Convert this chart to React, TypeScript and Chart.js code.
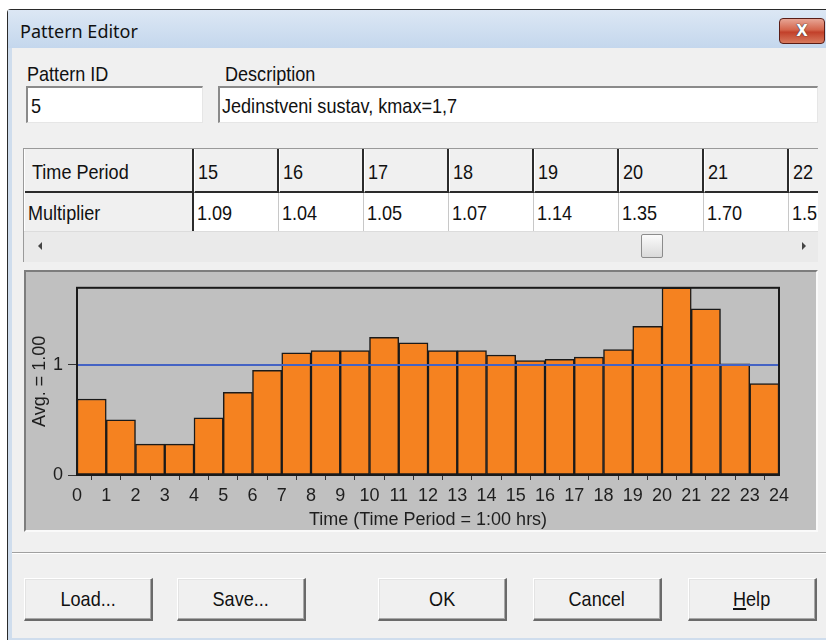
import React, { useEffect, useRef } from "react";
import { Chart, registerables } from "chart.js";

Chart.register(...registerables);

// ---- data ----
const periodStarts = [0, 1, 2, 3, 4, 5, 6, 7, 8, 9, 10, 11, 12, 13, 14, 15, 16, 17, 18, 19, 20, 21, 22, 23];
const multipliers = [0.69, 0.5, 0.28, 0.28, 0.52, 0.75, 0.95, 1.11, 1.13, 1.13, 1.25, 1.2, 1.13, 1.13, 1.09, 1.04, 1.05, 1.07, 1.14, 1.35, 1.7, 1.51, 1.01, 0.83];
const avgValue = 1.0;
const avgLineX = [0, 24];
const yTickValues = [0, 1];
const tablePeriods = [15, 16, 17, 18, 19, 20, 21, 22];
const patternId = "5";
const description = "Jedinstveni sustav, kmax=1,7";
const yTitle = "Avg. = 1.00";
const xTitle = "Time (Time Period = 1:00 hrs)";
const buttons = [
  { label: "Load...", x: 24 },
  { label: "Save...", x: 177 },
  { label: "OK", x: 378 },
  { label: "Cancel", x: 533 },
  { label: "Help", x: 688, u: true },
];

const UI_FONT = '"Liberation Sans", Arial, sans-serif';
const CHART_FONT = '"Liberation Sans", Arial, sans-serif';
const SX = 0.86;

const framePlugin = {
  id: "frame",
  afterDatasetsDraw(chart: any) {
    const { ctx, chartArea: a } = chart;
    ctx.save();
    ctx.strokeStyle = "#1a1a1a";
    ctx.lineWidth = 2;
    ctx.strokeRect(a.left, a.top, a.right - a.left, a.bottom - a.top);
    ctx.restore();
  },
};

function PatternChart() {
  const ref = useRef<HTMLCanvasElement | null>(null);
  useEffect(() => {
    if (!ref.current) return;
    const chart = new Chart(ref.current, {
      type: "bar",
      data: {
        datasets: [
          {
            type: "line",
            data: avgLineX.map((x) => ({ x, y: avgValue })),
            borderColor: "#4463c4",
            borderWidth: 2,
            pointRadius: 0,
            order: 0,
          } as any,
          {
            type: "bar",
            data: periodStarts.map((p, i) => ({ x: p + 0.5, y: multipliers[i] })),
            backgroundColor: "#f58220",
            borderColor: "#1a1a1a",
            borderWidth: 1.5,
            borderSkipped: false,
            barPercentage: 1,
            categoryPercentage: 1,
            order: 1,
          } as any,
        ],
      },
      options: {
        animation: false,
        responsive: false,
        devicePixelRatio: 1,
        layout: { padding: { top: 13, right: 37, left: 0, bottom: 0 } },
        plugins: { legend: { display: false }, tooltip: { enabled: false } },
        scales: {
          x: {
            type: "linear",
            min: 0,
            max: 24,
            offset: false,
            afterFit: (s: any) => {
              s.height = 55;
            },
            ticks: {
              stepSize: 1,
              autoSkip: false,
              maxRotation: 0,
              padding: 5,
              color: "#1e1e1e",
              font: { family: CHART_FONT, size: 18 },
            },
            grid: { drawOnChartArea: false, drawTicks: true, tickLength: 5, color: "#333" },
            border: { display: false },
            title: {
              display: true,
              text: xTitle,
              color: "#1e1e1e",
              font: { family: CHART_FONT, size: 18 },
              padding: { top: 0, bottom: -1 },
            },
          },
          y: {
            type: "linear",
            min: 0,
            max: 1.7,
            afterFit: (s: any) => {
              s.width = 51;
            },
            afterBuildTicks: (s: any) => {
              s.ticks = yTickValues.map((v) => ({ value: v }));
            },
            ticks: {
              padding: 5,
              color: "#1e1e1e",
              font: { family: CHART_FONT, size: 18 },
            },
            grid: { drawOnChartArea: false, drawTicks: true, tickLength: 9, color: "#333" },
            border: { display: false },
            title: {
              display: true,
              text: yTitle,
              color: "#1e1e1e",
              font: { family: CHART_FONT, size: 18 },
              padding: { top: 3, bottom: 0 },
            },
          },
        },
      } as any,
      plugins: [framePlugin],
    });
    return () => chart.destroy();
  }, []);
  return <canvas ref={ref} width={790} height={258} style={{ width: 790, height: 258, display: "block" }} />;
}

const abs = (x: number, y: number, w: number, h: number, extra: React.CSSProperties = {}): React.CSSProperties => ({
  position: "absolute",
  left: x,
  top: y,
  width: w,
  height: h,
  boxSizing: "border-box",
  ...extra,
});

function Txt({ x, y, children, size = 21, color = "#111", font = UI_FONT }: any) {
  return (
    <div
      style={{
        position: "absolute",
        left: x,
        top: y,
        fontFamily: font,
        fontSize: size,
        color,
        lineHeight: "1",
        whiteSpace: "nowrap",
        transform: `translateY(-50%) scaleX(${SX})`,
        transformOrigin: "left center",
      }}
    >
      {children}
    </div>
  );
}

export default function App() {
  const colW = 85;
  const firstColRight = 193;
  return (
    <div style={abs(0, 0, 826, 641, { background: "#ffffff", overflow: "hidden", fontFamily: UI_FONT })}>
      {/* window frame */}
      <div style={abs(7, 9, 830, 631, { background: "#cfdded", borderTop: "1px solid #2a2a2a", borderLeft: "1px solid #2a2a2a", borderTopLeftRadius: 4 })} />
      {/* title bar */}
      <div style={abs(8, 10, 820, 38, { background: "linear-gradient(#dce7f4, #c4d7ed)" })} />
      <div style={{ position: "absolute", left: 20, top: 31, transform: "translateY(-50%)", fontFamily: '"Noto Sans", sans-serif', fontSize: 18, color: "#111", whiteSpace: "nowrap" }}>
        Pattern Editor
      </div>
      {/* close button */}
      <div
        style={abs(779, 18, 46, 26, {
          borderRadius: 4,
          border: "1px solid #5a1d16",
          background: "linear-gradient(#e7a595 0%, #d4654c 45%, #c2402a 55%, #d87a5e 100%)",
          display: "flex",
          alignItems: "center",
          justifyContent: "center",
        })}
      >
        <span style={{ color: "#fff", fontFamily: '"DejaVu Sans", sans-serif', fontWeight: "bold", fontSize: 15, textShadow: "0 0 1px #333, 0 0 1px #333" }}>X</span>
      </div>
      {/* body */}
      <div style={abs(12, 48, 820, 590, { background: "#f0f0f0" })} />

      {/* labels and inputs */}
      <Txt x={27} y={73}>Pattern ID</Txt>
      <Txt x={225} y={73}>Description</Txt>
      <div style={abs(26, 86, 177, 37, { background: "#fff", borderTop: "2px solid #8a8a8a", borderLeft: "2px solid #8a8a8a", borderRight: "1px solid #e6e6e6", borderBottom: "1px solid #e6e6e6" })} />
      <Txt x={31} y={105}>{patternId}</Txt>
      <div style={abs(218, 86, 600, 37, { background: "#fff", borderTop: "2px solid #8a8a8a", borderLeft: "2px solid #8a8a8a", borderRight: "1px solid #e6e6e6", borderBottom: "1px solid #e6e6e6" })} />
      <Txt x={222} y={105}>{description}</Txt>

      {/* grid table */}
      <div style={abs(23, 148, 795, 114, { background: "#f0f0f0", borderTop: "1px solid #9a9a9a", borderLeft: "1px solid #9a9a9a", overflow: "hidden" })}>
        {/* header row */}
        <div style={abs(0, 0, 795, 44, { background: "#f0f0f0", borderBottom: "2px solid #2b2b2b" })} />
        {/* data row */}
        <div style={abs(firstColRight - 24, 44, 700, 38, { background: "#ffffff" })} />
        {/* first column */}
        <div style={abs(0, 0, firstColRight - 23, 82, { borderRight: "2px solid #2b2b2b", borderLeft: "1px solid #ffffff" })} />
        <Txt x={8} y={22}>Time Period</Txt>
        <Txt x={4} y={63}>Multiplier</Txt>
        {tablePeriods.map((p, i) => {
          const left = firstColRight - 23 + i * colW;
          return (
            <React.Fragment key={p}>
              <div style={abs(left, 0, colW, 44, { borderRight: "2px solid #2b2b2b", borderLeft: "1px solid #ffffff", borderBottom: "2px solid #2b2b2b" })} />
              <div style={abs(left, 44, colW, 38, { borderRight: "1px solid #c8c8c8" })} />
              <Txt x={left + 4} y={22}>{String(p)}</Txt>
              <Txt x={left + 3} y={63}>{multipliers[p - 1].toFixed(2)}</Txt>
            </React.Fragment>
          );
        })}
        {/* scrollbar */}
        <div style={abs(0, 82, 795, 32, { background: "#eaeaea", borderTop: "1px solid #dcdcdc" })} />
        <div style={{ position: "absolute", left: 14, top: 97, width: 0, height: 0, borderTop: "4px solid transparent", borderBottom: "4px solid transparent", borderRight: "4px solid #444", transform: "translateY(-50%)" }} />
        <div style={{ position: "absolute", left: 778, top: 97, width: 0, height: 0, borderTop: "4px solid transparent", borderBottom: "4px solid transparent", borderLeft: "4px solid #444", transform: "translateY(-50%)" }} />
        <div style={abs(617, 85, 22, 24, { border: "1px solid #8c8c8c", borderRadius: 2, background: "linear-gradient(#fbfbfb, #dadada)" })} />
      </div>

      {/* chart frame */}
      <div style={abs(24, 270, 794, 262, { background: "#c0c0c0", borderTop: "2px solid #7d7d7d", borderLeft: "2px solid #7d7d7d", borderRight: "2px solid #fafafa", borderBottom: "2px solid #fafafa" })}>
        <div style={{ position: "absolute", left: 0, top: 0 }}>
          <PatternChart />
        </div>
      </div>

      {/* separator */}
      <div style={abs(12, 552, 820, 2, { borderTop: "1px solid #a0a0a0", borderBottom: "1px solid #ffffff" })} />

      {/* buttons */}
      {buttons.map((b) => (
        <div
          key={b.label}
          style={abs(b.x, 578, 129, 43, {
            background: "#f0f0f0",
            borderTop: "1px solid #ffffff",
            borderLeft: "1px solid #ffffff",
            borderRight: "2px solid #6a6a6a",
            borderBottom: "2px solid #6a6a6a",
            boxShadow: "inset -1px -1px 0 #a8a8a8, inset 1px 1px 0 #e3e3e3",
            display: "flex",
            alignItems: "center",
            justifyContent: "center",
            fontFamily: UI_FONT,
            fontSize: 21,
            color: "#111",
          })}
        >
          <span style={{ display: "inline-block", transform: `scaleX(${SX})`, whiteSpace: "nowrap" }}>
            {b.u ? (
              <>
                <span style={{ textDecoration: "underline" }}>{b.label[0]}</span>
                {b.label.slice(1)}
              </>
            ) : (
              b.label
            )}
          </span>
        </div>
      ))}
    </div>
  );
}
